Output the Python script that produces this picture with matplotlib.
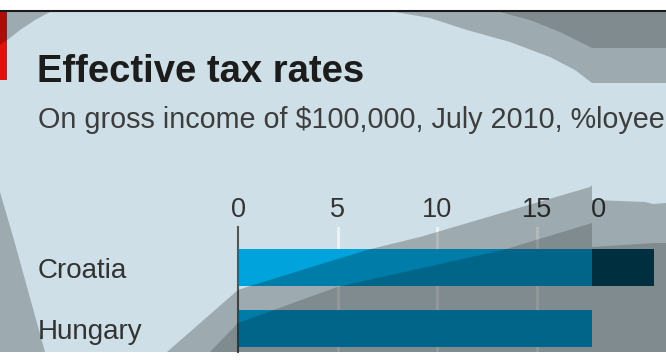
import numpy as np
import matplotlib.pyplot as plt
from matplotlib.patches import Polygon, Rectangle
from matplotlib.lines import Line2D
from matplotlib.transforms import Bbox, TransformedBbox

# ------------------------------------------------------------
# data
# ------------------------------------------------------------
countries = ["Croatia", "Hungary"]
rates = [23.1, 19.0]
ticks_main = [0, 5, 10, 15]
ticks_tail = [20]

TITLE = "Effective tax rates"
SUBTITLE = "On gross income of $100,000, July 2010, %loyee"

# ------------------------------------------------------------
# style
# ------------------------------------------------------------
W, H = 666, 363
BG = "#cedfe7"
BAR = "#00a3dc"
BAR_TAIL = "#004e66"
RED = "#e3120b"
TXT = "#333333"
PX_PER_UNIT = 19.9

plt.rcParams["font.family"] = ["Liberation Sans", "DejaVu Sans"]


def fpt(x, y):
    # pixel from top-left -> figure fraction
    return (x / W, 1 - y / H)


def box(x0, y0, x1, y1):
    return [x0 / W, 1 - y1 / H, (x1 - x0) / W, (y1 - y0) / H]


fig = plt.figure(figsize=(W / 100, H / 100), dpi=100)
fig.patch.set_facecolor("white")

# panel background, top rule, red tag
fig.add_artist(Rectangle(fpt(0, 352), 1, 340 / H, transform=fig.transFigure,
                         facecolor=BG, lw=0, zorder=-2))
fig.add_artist(Line2D([0, 1], [1 - 11 / H] * 2, transform=fig.transFigure,
                      color="#1a1a1a", lw=1.5, zorder=-1))
fig.add_artist(Rectangle(fpt(0, 80), 7 / W, 68 / H, transform=fig.transFigure,
                         facecolor=RED, lw=0, zorder=-1))

fig.text(37 / W, 1 - 82 / H, TITLE, fontsize=27.5, fontweight="bold",
         color="#1c1c1c", va="baseline", ha="left")
fig.text(38 / W, 1 - 128 / H, SUBTITLE, fontsize=20.7, color="#3d3d3d",
         va="baseline", ha="left")

# ------------------------------------------------------------
# bars: main part and the torn-off right part
# ------------------------------------------------------------
y = np.arange(len(countries))
ylim = (1.385, -0.664)

ax = fig.add_axes(box(238, 227, 592, 352))
ax_t = fig.add_axes(box(592, 227, 666, 352))

ax.barh(y, rates, height=0.6, color=BAR, zorder=2)
ax_t.barh(y, rates, height=0.6, color=BAR_TAIL, zorder=2)

ax.set_xlim(0, (592 - 238) / PX_PER_UNIT)
ax_t.set_xlim(20, 20 + (666 - 592) / PX_PER_UNIT)

for a in (ax, ax_t):
    a.set_ylim(*ylim)
    a.set_facecolor("none")
    for s in a.spines.values():
        s.set_visible(False)
    a.xaxis.tick_top()
    a.tick_params(axis="x", length=0, pad=3, labelsize=19.5, labelcolor=TXT)

for t in ticks_main[1:]:
    ax.axvline(t, color="#eef3f6", lw=2, zorder=1)
ax.axvline(0, color="#555555", lw=1.5, zorder=3, clip_on=False)

ax.set_xticks(ticks_main)
ax.set_yticks(y, countries)
ax.tick_params(axis="y", length=0, pad=144, labelsize=20, labelcolor=TXT)
for lbl in ax.get_yticklabels():
    lbl.set_horizontalalignment("left")

ax_t.set_yticks([])
ax_t.set_xticks(ticks_tail)
clip = TransformedBbox(Bbox([[592 / W, 0], [1, 1]]), fig.transFigure)
for tk in ax_t.xaxis.get_major_ticks():
    tk.label2.set_clip_box(clip)
    tk.label2.set_clip_on(True)

# ------------------------------------------------------------
# grey shading over the panel
# ------------------------------------------------------------
shade1 = [
    [(395, 12), (430, 18), (467, 30), (510, 42), (550, 57), (575, 70),
     (592, 83), (666, 83), (666, 12)],
    [(0, 12), (50, 12), (35, 20), (20, 30), (10, 38), (0, 45)],
    [(0, 192), (14, 240), (45, 352), (0, 352)],
    [(167, 352), (238, 290), (250, 286), (367, 250), (420, 237), (590, 187),
     (592, 185), (592, 200), (620, 201), (645, 202), (653, 204), (666, 203),
     (666, 352)],
]
shade2 = [
    [(500, 12), (530, 20), (560, 32), (580, 42), (592, 48), (666, 48),
     (666, 12)],
    [(210, 352), (238, 323), (337, 287), (503, 250), (592, 223), (592, 247),
     (655, 243), (666, 243), (666, 352)],
]
for polys, alpha in ((shade1, 0.235), (shade2, 0.18)):
    for pts in polys:
        fig.add_artist(Polygon([fpt(px, py) for px, py in pts], closed=True,
                               transform=fig.transFigure, facecolor="black",
                               alpha=alpha, lw=0, zorder=5))

fig.savefig("out.png", dpi=100, facecolor="white")
